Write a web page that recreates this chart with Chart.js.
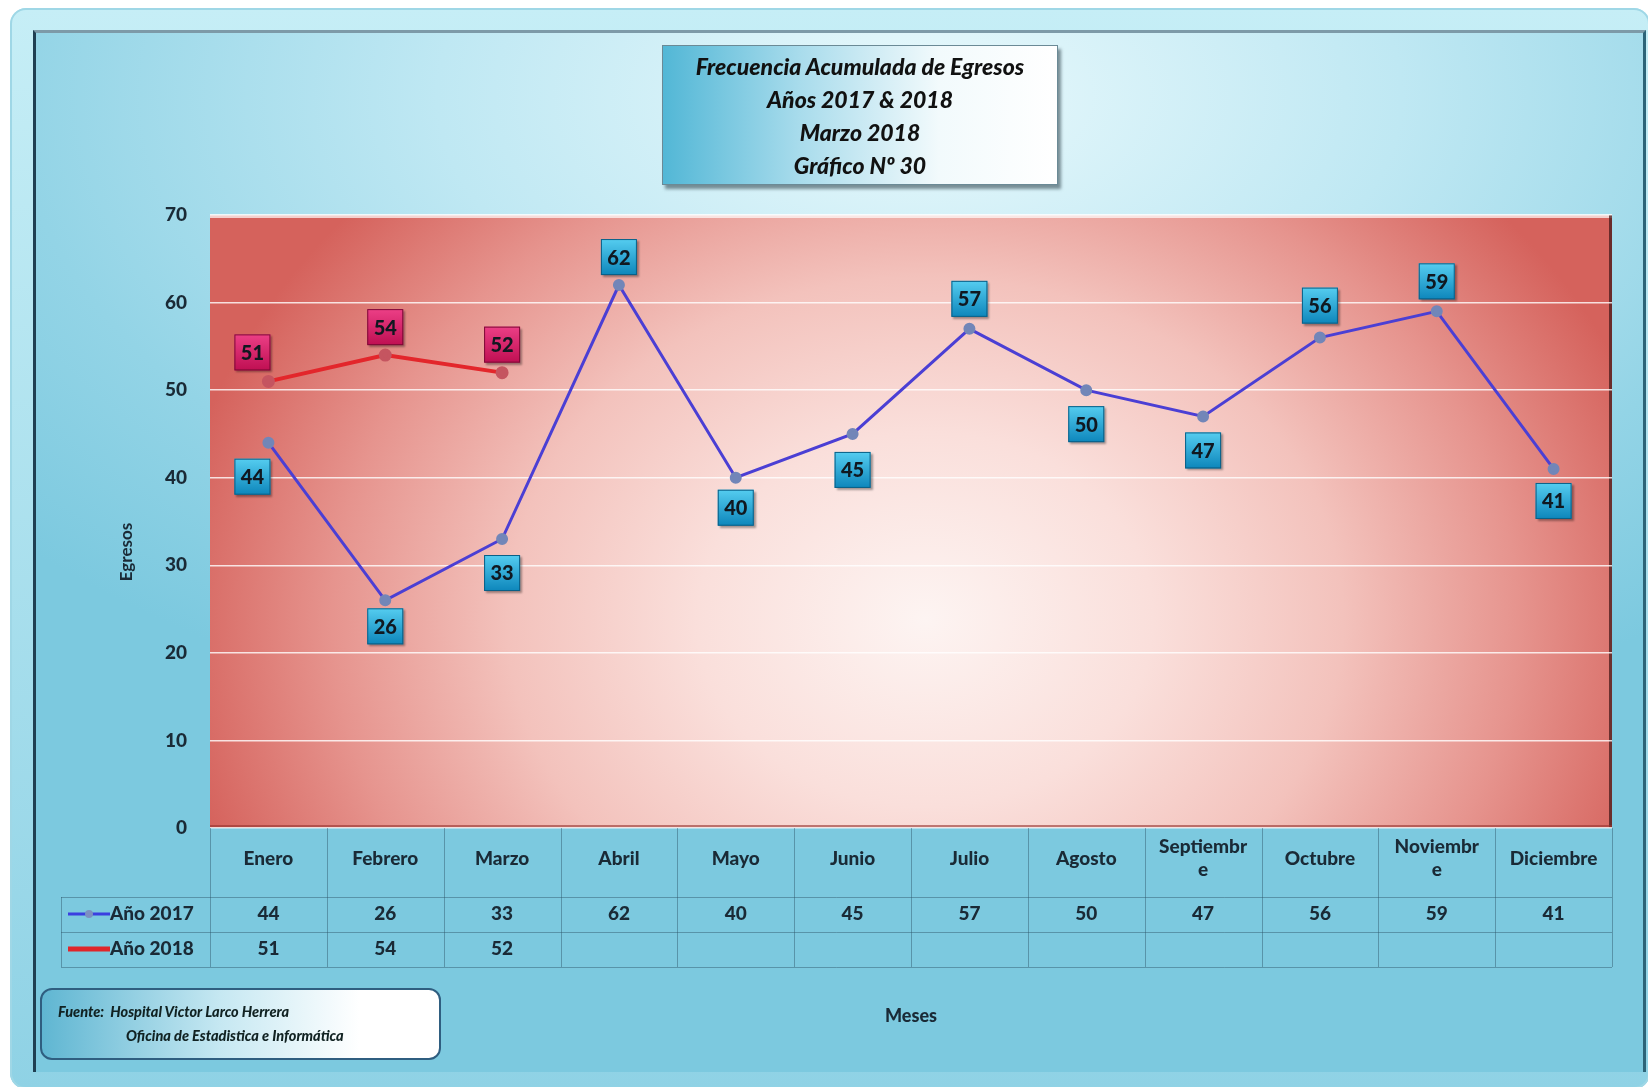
<!DOCTYPE html>
<html>
<head>
<meta charset="utf-8">
<script src="https://cdn.jsdelivr.net/npm/chart.js@4.4.1/dist/chart.umd.min.js"></script>
<style>
  html, body { margin: 0; padding: 0; background: #fff; }
  #frame { position: relative; width: 1648px; height: 1087px; overflow: hidden; font-family: Lato, "Open Sans", sans-serif; }
  #outer {
    position: absolute; left: 10px; top: 8px; width: 1640px; height: 1081px; border-radius: 16px;
    background: linear-gradient(180deg, #c6eef6 0%, #8fd2e5 100%);
    box-shadow: inset 0 0 0 2px #9fd7e6;
  }
  #inner {
    position: absolute; left: 33px; top: 30px; width: 1607px; height: 1039px;
    border-left: 3px solid #1f3f52; border-top: 3px solid #7d9aa8; border-right: 3px solid #2d6478;
    background: radial-gradient(ellipse 75% 65% at 55% 6%, #e9f9fc 0%, #bfe8f3 40%, #93d4e6 75%, #7cc9df 100%);
  }
  canvas { position: absolute; left: 0; top: 0; }
  #titleBox {
    position: absolute; left: 662px; top: 45px; width: 396px; height: 140px;
    background: linear-gradient(90deg, #52b7d6 0%, #a9dcec 35%, #f2fafc 70%, #ffffff 100%);
    border: 1px solid #6b8a96; box-shadow: 3px 4px 3px rgba(40,60,70,0.55);
    text-align: center; font-style: italic; font-weight: 900; font-size: 23px; line-height: 33px; color: #111;
    padding-top: 4px; box-sizing: border-box;
  }
  #srcBox {
    position: absolute; left: 40px; top: 988px; width: 401px; height: 72px; box-sizing: border-box;
    border: 2px solid #2f5e80; border-radius: 12px;
    background: linear-gradient(90deg, #5fb6d2 0%, #c6e8f2 45%, #ffffff 80%);
    font-style: italic; font-weight: 900; font-size: 14.5px; color: #122; line-height: 24px;
    padding: 10px 0 0 16px;
  }
  #srcBox .l2 { padding-left: 68px; }
</style>
</head>
<body>
<div id="frame">
  <div id="outer"></div>
  <div id="inner"></div>
  <canvas id="chart" width="1648" height="1087"></canvas>
  <div id="titleBox">Frecuencia Acumulada de Egresos<br>Años 2017 &amp; 2018<br>Marzo 2018<br>Gráfico Nº 30</div>
  <div id="srcBox"><div>Fuente:&nbsp; Hospital Victor Larco Herrera</div><div class="l2">Oficina de Estadistica e Informática</div></div>
</div>
<script>
const months = ['Enero', 'Febrero', 'Marzo', 'Abril', 'Mayo', 'Junio', 'Julio', 'Agosto',
  ['Septiembr', 'e'], 'Octubre', ['Noviembr', 'e'], 'Diciembre'];
const values2017 = [44, 26, 33, 62, 40, 45, 57, 50, 47, 56, 59, 41];
const values2018 = [51, 54, 52, null, null, null, null, null, null, null, null, null];
const seriesNames = ['Año 2017', 'Año 2018'];
const yTicks = [0, 10, 20, 30, 40, 50, 60, 70];
const yTitle = 'Egresos';
const xTitle = 'Meses';

const FONT = 'Lato, "Open Sans", sans-serif';
const INK = '#1a2a36';

// label placement: above (-) or below (+) the point
const labelDy2017 = [34, 26, 34, -28, 30, 36, -30, 34, 34, -32, -30, 32];
const labelDy2018 = [-29, -28, -28];

// plot surface: red edges fading to a pale pink centre
const plotBg = {
  id: 'plotBg',
  beforeDraw(chart) {
    const { ctx, chartArea: { left, top, right, bottom } } = chart;
    ctx.save();
    ctx.beginPath();
    ctx.rect(left, top, right - left, bottom - top);
    ctx.clip();
    ctx.fillStyle = '#d5625c';
    ctx.fillRect(left, top, right - left, bottom - top);
    const cx = left + (right - left) * 0.51, cy = top + (bottom - top) * 0.66;
    ctx.translate(cx, cy);
    ctx.scale(1, 0.82);
    const g = ctx.createRadialGradient(0, 0, 0, 0, 0, 760);
    g.addColorStop(0, '#fdf4f2');
    g.addColorStop(0.3, '#fadfdb');
    g.addColorStop(0.55, '#f3c2bc');
    g.addColorStop(0.78, '#e6948e');
    g.addColorStop(1, '#d5625c');
    ctx.fillStyle = g;
    ctx.fillRect(-2000, -2000, 4000, 4000);
    ctx.restore();
    // top highlight + right shadow
    ctx.save();
    ctx.fillStyle = 'rgba(255,255,255,0.7)';
    ctx.fillRect(left, top, right - left, 3);
    ctx.fillStyle = 'rgba(70,25,25,0.75)';
    ctx.fillRect(right - 3, top, 3, bottom - top);
    ctx.fillStyle = 'rgba(150,50,45,0.6)';
    ctx.fillRect(left, bottom - 3, right - left, 3);
    ctx.restore();
    // y axis title
    ctx.save();
    ctx.translate(127, 552);
    ctx.rotate(-Math.PI / 2);
    ctx.font = `700 17px ${FONT}`;
    ctx.fillStyle = INK;
    ctx.textAlign = 'center';
    ctx.textBaseline = 'middle';
    ctx.fillText(yTitle, 0, 0);
    ctx.restore();
  },
};

// boxed value labels
const boxLabels = {
  id: 'boxLabels',
  afterDatasetsDraw(chart) {
    const { ctx } = chart;
    const styles = [
      { top: '#55cdf0', bot: '#0d86bb', edge: '#0a5f86', dy: labelDy2017 },
      { top: '#ec3f86', bot: '#bf0f52', edge: '#7d0a36', dy: labelDy2018 },
    ];
    ctx.save();
    ctx.font = `900 20px ${FONT}`;
    ctx.textAlign = 'center';
    ctx.textBaseline = 'middle';
    chart.data.datasets.forEach((ds, i) => {
      const meta = chart.getDatasetMeta(i);
      const st = styles[i];
      meta.data.forEach((pt, j) => {
        const v = ds.data[j];
        if (v == null) return;
        const dx = j === 0 ? -16 : 0;
        const x = pt.x + dx, y = pt.y + st.dy[j];
        const w = 36, h = 36;
        ctx.shadowColor = 'rgba(0,0,0,0.35)';
        ctx.shadowOffsetX = 2; ctx.shadowOffsetY = 2; ctx.shadowBlur = 2;
        const g = ctx.createLinearGradient(0, y - h / 2, 0, y + h / 2);
        g.addColorStop(0, st.top);
        g.addColorStop(1, st.bot);
        ctx.fillStyle = g;
        ctx.fillRect(x - w / 2, y - h / 2, w, h);
        ctx.shadowColor = 'transparent';
        ctx.strokeStyle = st.edge;
        ctx.lineWidth = 1;
        ctx.strokeRect(x - w / 2 + 0.5, y - h / 2 + 0.5, w - 1, h - 1);
        ctx.fillStyle = '#101820';
        ctx.fillText(String(v), x, y + 1);
      });
    });
    ctx.restore();
  },
};

// data table under the x axis
const dataTable = {
  id: 'dataTable',
  afterDraw(chart) {
    const { ctx, chartArea: { left, right, bottom } } = chart;
    const xs = chart.scales.x;
    const n = months.length;
    const step = (right - left) / n;
    const legendLeft = 61;
    const rowTop = [897, 932];
    const tableBottom = 967;
    ctx.save();
    ctx.strokeStyle = 'rgba(45,85,105,0.45)';
    ctx.lineWidth = 1;
    for (let i = 0; i <= n; i++) {
      const x = Math.round(left + i * step) + 0.5;
      ctx.beginPath(); ctx.moveTo(x, bottom); ctx.lineTo(x, tableBottom); ctx.stroke();
    }
    ctx.beginPath(); ctx.moveTo(legendLeft + 0.5, rowTop[0]); ctx.lineTo(legendLeft + 0.5, tableBottom); ctx.stroke();
    [rowTop[0], rowTop[1], tableBottom].forEach((y) => {
      ctx.beginPath(); ctx.moveTo(legendLeft, y + 0.5); ctx.lineTo(right, y + 0.5); ctx.stroke();
    });

    ctx.font = `900 19px ${FONT}`;
    ctx.textBaseline = 'middle';
    ctx.fillStyle = INK;
    const rows = [values2017, values2018];
    const lineColors = ['#3b3fe0', '#e0262b'];
    rows.forEach((vals, r) => {
      const cy = rowTop[r] + 17;
      ctx.textAlign = 'center';
      ctx.fillStyle = INK;
      vals.forEach((v, j) => {
        if (v == null) return;
        ctx.fillText(String(v), xs.getPixelForValue(j), cy);
      });
      // legend key
      ctx.strokeStyle = lineColors[r];
      ctx.lineWidth = r === 0 ? 3 : 5;
      ctx.beginPath(); ctx.moveTo(68, cy); ctx.lineTo(110, cy); ctx.stroke();
      if (r === 0) {
        ctx.fillStyle = '#7d90c0';
        ctx.beginPath(); ctx.arc(89, cy, 4, 0, Math.PI * 2); ctx.fill();
      }
      ctx.fillStyle = INK;
      ctx.textAlign = 'left';
      ctx.fillText(seriesNames[r], 110, cy);
    });
    ctx.restore();
  },
};

new Chart(document.getElementById('chart'), {
  type: 'line',
  data: {
    labels: months,
    datasets: [
      {
        label: seriesNames[0], data: values2017,
        borderColor: '#4b3fd4', borderWidth: 3,
        pointRadius: 4.5, pointBackgroundColor: '#7286b8', pointBorderColor: '#7286b8',
        tension: 0,
      },
      {
        label: seriesNames[1], data: values2018,
        borderColor: '#e3262b', borderWidth: 4,
        pointRadius: 4.5, pointBackgroundColor: '#c55560', pointBorderColor: '#c55560',
        tension: 0, spanGaps: false,
      },
    ],
  },
  plugins: [plotBg, boxLabels, dataTable],
  options: {
    responsive: false,
    animation: false,
    devicePixelRatio: 1,
    layout: { padding: { top: 215, right: 36, left: 0, bottom: 0 } },
    plugins: { legend: { display: false }, tooltip: { enabled: false }, title: { display: false } },
    scales: {
      y: {
        min: yTicks[0], max: yTicks[yTicks.length - 1],
        afterFit: (s) => { s.width = 210; },
        afterBuildTicks: (s) => { s.ticks = yTicks.map((v) => ({ value: v })); },
        border: { display: false },
        grid: { color: 'rgba(255,255,255,0.8)', lineWidth: 1.5, drawTicks: false },
        ticks: { color: INK, padding: 23, font: { family: FONT, size: 19, weight: '900' } },
      },
      x: {
        offset: true,
        afterFit: (s) => { s.height = 1087 - 828; },
        border: { display: false },
        grid: { display: false },
        ticks: {
          color: INK, padding: 11, autoSkip: false, maxRotation: 0, crossAlign: 'center',
          font: { family: FONT, size: 19, weight: '900' },
        },
        title: {
          display: true, text: xTitle, color: INK,
          font: { family: FONT, size: 18, weight: '900' },
          padding: { top: 0, bottom: 60 },
        },
      },
    },
  },
});
</script>
</body>
</html>
